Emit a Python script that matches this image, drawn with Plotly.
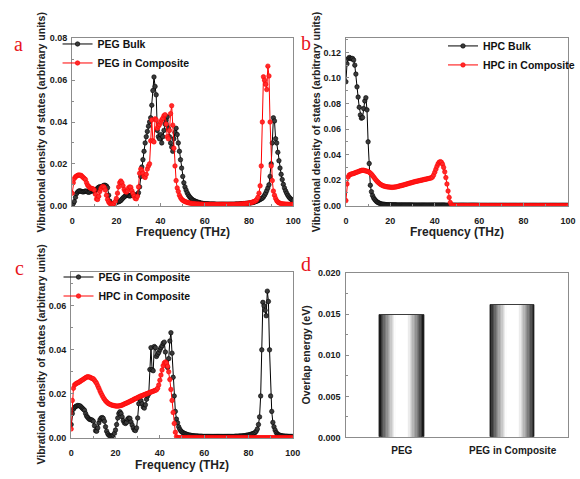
import plotly.graph_objects as go

# ---------------- data ----------------
# frequency grid step 0.5 THz, 0 .. 100 THz (rows = 10 THz each)
PEG_BULK = [
    0.0000,0.0010,0.0020,0.0040,0.0058,0.0066,0.0070,0.0071,0.0069,0.0067,0.0066,0.0068,0.0070,0.0069,0.0066,0.0064,0.0066,0.0070,0.0073,0.0070,
    0.0068,0.0072,0.0078,0.0084,0.0088,0.0091,0.0088,0.0092,0.0095,0.0098,0.0097,0.0094,0.0086,0.0050,0.0022,0.0011,0.0009,0.0010,0.0012,0.0014,
    0.0016,0.0018,0.0019,0.0021,0.0025,0.0031,0.0037,0.0042,0.0046,0.0050,0.0052,0.0049,0.0046,0.0048,0.0053,0.0056,0.0054,0.0050,0.0048,0.0052,
    0.0062,0.0090,0.0140,0.0185,0.0220,0.0260,0.0300,0.0330,0.0355,0.0380,0.0400,0.0420,0.0480,0.0550,0.0615,0.0570,0.0530,0.0360,0.0330,0.0320,
    0.0340,0.0300,0.0330,0.0360,0.0390,0.0410,0.0425,0.0370,0.0330,0.0300,0.0280,0.0260,0.0320,0.0350,0.0370,0.0340,0.0300,0.0260,0.0220,0.0180,
    0.0140,0.0110,0.0090,0.0075,0.0062,0.0052,0.0044,0.0038,0.0032,0.0028,0.0025,0.0022,0.0020,0.0018,0.0016,0.0015,0.0013,0.0012,0.0011,0.0010,
    0.0010,0.0009,0.0009,0.0009,0.0008,0.0008,0.0008,0.0008,0.0008,0.0008,0.0007,0.0007,0.0007,0.0007,0.0007,0.0007,0.0007,0.0007,0.0007,0.0007,
    0.0007,0.0007,0.0007,0.0007,0.0007,0.0007,0.0007,0.0007,0.0008,0.0008,0.0008,0.0008,0.0009,0.0009,0.0009,0.0010,0.0010,0.0011,0.0011,0.0012,
    0.0012,0.0013,0.0014,0.0015,0.0016,0.0018,0.0020,0.0022,0.0024,0.0027,0.0030,0.0033,0.0036,0.0042,0.0050,0.0060,0.0072,0.0085,0.0100,0.0140,
    0.0200,0.0300,0.0420,0.0405,0.0320,0.0300,0.0255,0.0215,0.0180,0.0150,0.0125,0.0102,0.0085,0.0071,0.0060,0.0050,0.0042,0.0036,0.0031,0.0027,
    0.0024,
]

PEG_COMP = [
    0.0060,0.0110,0.0130,0.0138,0.0142,0.0145,0.0147,0.0146,0.0145,0.0140,0.0135,0.0130,0.0125,0.0110,0.0098,0.0092,0.0086,0.0083,0.0082,0.0080,
    0.0075,0.0055,0.0032,0.0030,0.0045,0.0068,0.0082,0.0090,0.0092,0.0088,0.0075,0.0050,0.0030,0.0018,0.0011,0.0008,0.0007,0.0008,0.0012,0.0020,
    0.0035,0.0060,0.0090,0.0110,0.0118,0.0110,0.0095,0.0078,0.0068,0.0065,0.0070,0.0085,0.0090,0.0088,0.0072,0.0058,0.0045,0.0035,0.0033,0.0045,
    0.0090,0.0155,0.0175,0.0168,0.0155,0.0140,0.0135,0.0150,0.0175,0.0190,0.0200,0.0310,0.0410,0.0310,0.0305,0.0415,0.0410,0.0370,0.0380,0.0388,
    0.0400,0.0410,0.0418,0.0430,0.0435,0.0390,0.0330,0.0320,0.0360,0.0440,0.0478,0.0385,0.0275,0.0190,0.0120,0.0085,0.0068,0.0050,0.0039,0.0031,
    0.0026,0.0023,0.0020,0.0018,0.0016,0.0014,0.0013,0.0012,0.0011,0.0010,0.0009,0.0009,0.0008,0.0008,0.0008,0.0007,0.0007,0.0007,0.0007,0.0006,
    0.0006,0.0006,0.0006,0.0006,0.0006,0.0006,0.0006,0.0006,0.0006,0.0006,0.0006,0.0006,0.0006,0.0006,0.0006,0.0006,0.0006,0.0006,0.0006,0.0006,
    0.0006,0.0006,0.0006,0.0006,0.0006,0.0006,0.0006,0.0006,0.0007,0.0007,0.0007,0.0007,0.0008,0.0008,0.0008,0.0009,0.0009,0.0010,0.0011,0.0012,
    0.0013,0.0014,0.0015,0.0017,0.0019,0.0021,0.0024,0.0030,0.0040,0.0060,0.0095,0.0190,0.0400,0.0616,0.0600,0.0580,0.0555,0.0667,0.0620,0.0400,
    0.0190,0.0120,0.0070,0.0050,0.0035,0.0024,0.0018,0.0014,0.0012,0.0010,0.0009,0.0008,0.0008,0.0007,0.0007,0.0007,0.0006,0.0006,0.0006,0.0006,
    0.0006,
]

HPC_BULK = [
    0.0970,0.1110,0.1150,0.1160,0.1155,0.1150,0.1152,0.1140,0.1100,0.1030,0.0930,0.0850,0.0770,0.0710,0.0685,0.0690,0.0760,0.0820,0.0845,0.0750,
    0.0500,0.0330,0.0160,0.0110,0.0080,0.0060,0.0048,0.0038,0.0030,0.0025,0.0020,0.0016,0.0014,0.0012,0.0011,0.0010,0.0009,0.0008,0.0008,0.0008,
    0.0007,0.0007,0.0007,0.0007,0.0007,0.0007,0.0006,0.0006,0.0006,0.0006,0.0006,0.0006,0.0006,0.0006,0.0006,0.0006,0.0006,0.0006,0.0006,0.0006,
    0.0005,0.0005,0.0005,0.0005,0.0005,0.0005,0.0005,0.0005,0.0005,0.0005,0.0005,0.0005,0.0005,0.0005,0.0005,0.0005,0.0005,0.0005,0.0005,0.0005,
    0.0005,0.0005,0.0005,0.0005,0.0005,0.0005,0.0005,0.0005,0.0005,0.0005,0.0004,0.0004,0.0004,0.0004,0.0004,0.0004,0.0004,0.0004,0.0004,0.0004,
    0.0004,0.0004,0.0004,0.0004,0.0004,0.0004,0.0004,0.0004,0.0004,0.0004,0.0004,0.0004,0.0004,0.0004,0.0004,0.0004,0.0004,0.0004,0.0004,0.0004,
    0.0003,0.0003,0.0003,0.0003,0.0003,0.0003,0.0003,0.0003,0.0003,0.0003,0.0003,0.0003,0.0003,0.0003,0.0003,0.0003,0.0003,0.0003,0.0003,0.0003,
    0.0003,0.0003,0.0003,0.0003,0.0003,0.0003,0.0003,0.0003,0.0003,0.0003,0.0003,0.0003,0.0003,0.0003,0.0003,0.0003,0.0003,0.0003,0.0003,0.0003,
    0.0003,0.0003,0.0003,0.0003,0.0003,0.0003,0.0003,0.0003,0.0003,0.0003,0.0003,0.0003,0.0003,0.0003,0.0003,0.0003,0.0003,0.0003,0.0003,0.0003,
    0.0003,0.0003,0.0003,0.0003,0.0003,0.0003,0.0003,0.0003,0.0003,0.0003,0.0003,0.0003,0.0003,0.0003,0.0003,0.0003,0.0003,0.0003,0.0003,0.0003,
    0.0003,
]

HPC_COMP = [
    0.0040,0.0170,0.0225,0.0240,0.0245,0.0248,0.0250,0.0253,0.0256,0.0260,0.0263,0.0266,0.0270,0.0273,0.0276,0.0278,0.0277,0.0275,0.0272,0.0270,
    0.0268,0.0262,0.0255,0.0247,0.0236,0.0225,0.0213,0.0202,0.0192,0.0183,0.0175,0.0168,0.0163,0.0158,0.0155,0.0152,0.0150,0.0148,0.0147,0.0146,
    0.0145,0.0144,0.0144,0.0145,0.0146,0.0147,0.0149,0.0151,0.0154,0.0156,0.0158,0.0160,0.0163,0.0165,0.0168,0.0170,0.0173,0.0176,0.0178,0.0180,
    0.0183,0.0185,0.0188,0.0190,0.0192,0.0194,0.0196,0.0198,0.0200,0.0202,0.0204,0.0206,0.0208,0.0210,0.0212,0.0214,0.0216,0.0218,0.0225,0.0240,
    0.0262,0.0285,0.0308,0.0328,0.0340,0.0345,0.0340,0.0325,0.0300,0.0265,0.0220,0.0170,0.0115,0.0065,0.0025,0.0005,0.0000,0.0000,0.0000,0.0000,
    0.0000,0.0000,0.0000,0.0000,0.0000,0.0000,0.0000,0.0000,0.0000,0.0000,0.0000,0.0000,0.0000,0.0000,0.0000,0.0000,0.0000,0.0000,0.0000,0.0000,
    0.0000,0.0000,0.0000,0.0000,0.0000,0.0000,0.0000,0.0000,0.0000,0.0000,0.0000,0.0000,0.0000,0.0000,0.0000,0.0000,0.0000,0.0000,0.0000,0.0000,
    0.0000,0.0000,0.0000,0.0000,0.0000,0.0000,0.0000,0.0000,0.0000,0.0000,0.0000,0.0000,0.0000,0.0000,0.0000,0.0000,0.0000,0.0000,0.0000,0.0000,
    0.0000,0.0000,0.0000,0.0000,0.0000,0.0000,0.0000,0.0000,0.0000,0.0000,0.0000,0.0000,0.0000,0.0000,0.0000,0.0000,0.0000,0.0000,0.0000,0.0000,
    0.0000,0.0000,0.0000,0.0000,0.0000,0.0000,0.0000,0.0000,0.0000,0.0000,0.0000,0.0000,0.0000,0.0000,0.0000,0.0000,0.0000,0.0000,0.0000,0.0000,
    0.0000,
]

BAR_CATEGORIES = ["PEG", "PEG in Composite"]
OVERLAP_ENERGY = [0.0149, 0.0161]

FREQ_STEP = 0.5
def freqs(vals):
    return [FREQ_STEP * i for i in range(len(vals))]

# ---------------- styling ----------------
W, H = 580, 479
def px_x(p): return p / W
def px_y(p): return 1 - p / H

AXC = "#8c8c8c"
TICKFONT = dict(family="Liberation Sans, Arial", size=9, color="#1a1a1a", weight="bold")
BLACK_M = dict(symbol="circle", size=4.5, color="#3a3a3a", line=dict(color="#000", width=0.6))
RED_M = dict(symbol="circle", size=4.5, color="#ff2a2a", line=dict(color="#ff0000", width=0.6))

fig = go.Figure()

def line_trace(vals, name, color, marker, xa, ya, legend):
    return go.Scatter(x=freqs(vals), y=vals, name=name, mode="lines+markers",
                      line=dict(color=color, width=1), marker=marker,
                      xaxis=xa, yaxis=ya, legend=legend)

fig.add_trace(line_trace(PEG_BULK, "PEG Bulk", "#000", BLACK_M, "x", "y", "legend"))
fig.add_trace(line_trace(PEG_COMP, "PEG in Composite", "#ff0000", RED_M, "x", "y", "legend"))
fig.add_trace(line_trace(HPC_BULK, "HPC Bulk", "#000", BLACK_M, "x2", "y2", "legend2"))
fig.add_trace(line_trace(HPC_COMP, "HPC in Composite", "#ff0000", RED_M, "x2", "y2", "legend2"))
fig.add_trace(line_trace(PEG_COMP, "PEG in Composite", "#000", BLACK_M, "x3", "y3", "legend3"))
fig.add_trace(line_trace(HPC_COMP, "HPC in Composite", "#ff0000", RED_M, "x3", "y3", "legend3"))

# cylinder-like shaded bars: nested overlaid bars, dark at the edges, white in the middle
N = 16
BAR_W = 0.4
for k in range(N):
    t = k / N
    g = 255 if t >= 0.7 else int(25 + 230 * (t / 0.7) ** 0.8)
    fig.add_trace(go.Bar(x=BAR_CATEGORIES, y=OVERLAP_ENERGY, width=BAR_W * (1 - t),
                         marker=dict(color=f"rgb({g},{g},{g})",
                                     line=dict(width=0.8 if k == 0 else 0, color="#222")),
                         xaxis="x4", yaxis="y4", showlegend=False, hoverinfo="skip"))

def axis(dom_px, anchor, rng, dtick, mdtick, fmt=None, standoff=2):
    d = dict(domain=dom_px, anchor=anchor, range=rng, showline=True, linecolor=AXC, linewidth=1,
             mirror=True, ticks="inside", ticklen=3, tickcolor=AXC, tickwidth=1,
             tick0=0, dtick=dtick, tickfont=TICKFONT, showgrid=False, zeroline=False,
             minor=dict(ticks="inside", ticklen=2, dtick=mdtick, tickcolor=AXC),
             ticklabelstandoff=standoff, fixedrange=True)
    if fmt:
        d["tickformat"] = fmt
    return d

xa_dom = [px_x(71), px_x(298)]
xb_dom = [px_x(352), px_x(580)]
xc_dom = [px_x(70), px_x(297.5)]
xd_dom = [px_x(352.5), px_x(580)]
ytop_dom = [px_y(205), px_y(34)]
yc_dom = [px_y(442), px_y(272.7)]
yd_dom = [px_y(441.7), px_y(273.7)]

LEGFONT = dict(family="Liberation Sans, Arial", size=10.5, color="#111", weight="bold")
def legend(xp, yp):
    return dict(x=px_x(xp), y=px_y(yp), xanchor="left", yanchor="top", font=LEGFONT,
                bgcolor="rgba(0,0,0,0)", borderwidth=0, tracegroupgap=0, itemwidth=30)

fig.update_layout(
    width=W, height=H, margin=dict(l=0, r=0, t=0, b=0),
    paper_bgcolor="white", plot_bgcolor="white", barmode="overlay", bargap=0,
    xaxis=axis(xa_dom, "y", [0, 100], 20, 10, standoff=6),
    yaxis=axis(ytop_dom, "x", [0, 0.08], 0.02, 0.01, ".2f"),
    xaxis2=axis(xb_dom, "y2", [0, 100], 20, 10, standoff=6),
    yaxis2=axis(ytop_dom, "x2", [0, 0.131], 0.02, 0.01, ".2f"),
    xaxis3=axis(xc_dom, "y3", [0, 100], 20, 10, standoff=6),
    yaxis3=axis(yc_dom, "x3", [0, 0.0754], 0.02, 0.01, ".2f"),
    xaxis4=dict(domain=xd_dom, anchor="y4", range=[-0.5, 1.5], showline=True, linecolor=AXC,
                mirror=True, ticks="", tickfont=dict(family="Liberation Sans, Arial", size=10,
                color="#1a1a1a", weight="bold"), showgrid=False, zeroline=False,
                ticklabelstandoff=4, fixedrange=True),
    yaxis4=axis(yd_dom, "x4", [0, 0.020], 0.005, 0.0025, ".3f", standoff=3),
    legend=legend(56, 25),
    legend2=legend(452, 27),
    legend3=legend(57, 263),
    showlegend=True,
)

TITLEFONT = dict(family="Liberation Sans, Arial", size=10.5, color="#222", weight="bold")
XTFONT = dict(family="Liberation Sans, Arial", size=12, color="#222", weight="bold")
LETFONT = dict(family="Liberation Serif, Times New Roman", size=20, color="#e8141c")

def ann(text, xp, yp, font, angle=0):
    fig.add_annotation(text=text, x=px_x(xp), y=px_y(yp), xref="paper", yref="paper",
                       showarrow=False, font=font, textangle=angle,
                       xanchor="center", yanchor="middle")

YT = "Vibrational density of states (arbitrary units)"
ann(YT, 40, 120, TITLEFONT, -90)
ann(YT, 322, 120, TITLEFONT, -90)
ann(YT, 39, 357, TITLEFONT, -90)
ann("Overlap energy (eV)", 311, 357, TITLEFONT, -90)
ann("Frequency (THz)", 185, 232, XTFONT)
ann("Frequency (THz)", 466, 232, XTFONT)
ann("Frequency (THz)", 184, 470, XTFONT)
ann("a", 15.5, 39.5, LETFONT)
ann("b", 311, 38.5, LETFONT)
ann("c", 17, 269, LETFONT)
ann("d", 311, 265, LETFONT)

fig.write_html("out.html")
